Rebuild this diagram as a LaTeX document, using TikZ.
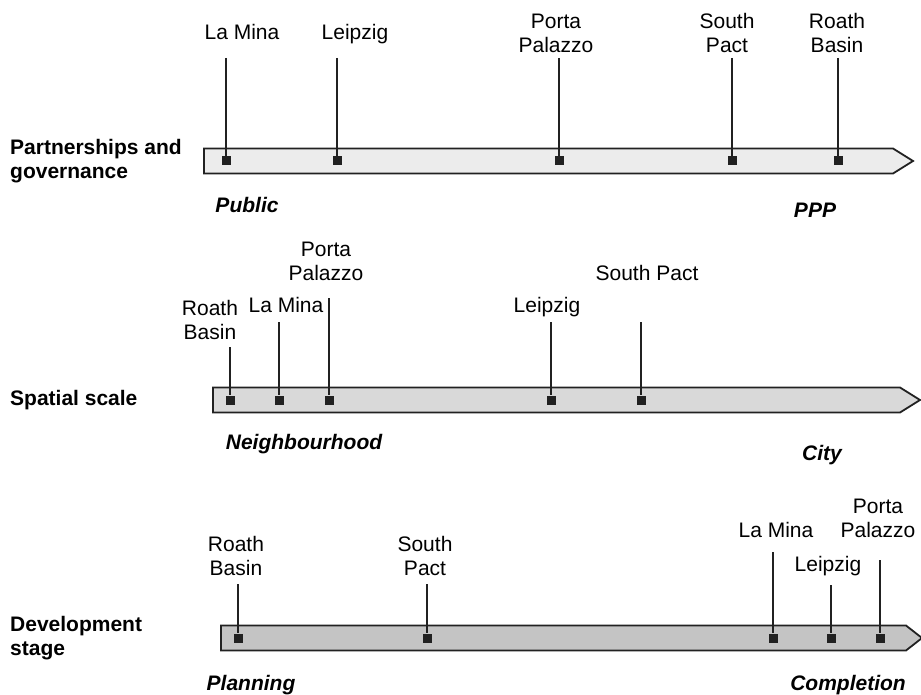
\documentclass[tikz,border=0pt]{standalone}
\usepackage{fontspec}
\setmainfont{Liberation Sans}
\definecolor{bandA}{gray}{0.925}
\definecolor{bandB}{gray}{0.85}
\definecolor{bandC}{gray}{0.77}
\definecolor{ink}{gray}{0.13}
\tikzset{
  band/.style={draw=ink, line width=1.8pt, line join=miter},
  dotsq/.style={fill=ink, minimum size=9pt, inner sep=0pt},
  stem/.style={draw=ink, line width=1.4pt},
  site/.style={font=\fontsize{21}{24.5}\selectfont, align=center, inner sep=0pt,
    text height=15pt, text depth=5pt, anchor=south},
  axislbl/.style={font=\bfseries\fontsize{21}{24.5}\selectfont, align=left, anchor=west, inner sep=0pt},
  endlbl/.style={font=\bfseries\itshape\fontsize{21}{24.5}\selectfont, inner sep=0pt, anchor=base}
}
\begin{document}
\begin{tikzpicture}[x=1pt, y=-1pt]
    \useasboundingbox (0,0) rectangle (921,695);
    % Partnerships and governance
    \begin{scope}[shift={(0,161)}]
        \draw[band, fill=bandA] (204,-12.5) -- (893,-12.5) -- (913,0) -- (893,12.5) -- (204,12.5) -- cycle;
        \node[axislbl] (gov) at (10,0) {Partnerships and\\governance};
        \node[dotsq] (gov-lamina) at (226,0) {};
        \node[dotsq] (gov-leipzig) at (337,0) {};
        \node[dotsq] (gov-porta) at (559,0) {};
        \node[dotsq] (gov-south) at (732,0) {};
        \node[dotsq] (gov-roath) at (838,0) {};
        \node[site] (gov-lamina-lbl) at (242,-116) {La Mina};
        \node[site] (gov-leipzig-lbl) at (355,-116) {Leipzig};
        \node[site] (gov-porta-lbl) at (556,-103) {Porta\\Palazzo};
        \node[site] (gov-south-lbl) at (727,-103) {South\\Pact};
        \node[site] (gov-roath-lbl) at (837,-103) {Roath\\Basin};
        \coordinate (gov-lamina-top) at (226,-103);
        \coordinate (gov-leipzig-top) at (337,-103);
        \coordinate (gov-porta-top) at (559,-103);
        \coordinate (gov-south-top) at (732,-103);
        \coordinate (gov-roath-top) at (838,-103);
        \draw[stem] (gov-lamina-top) -- (gov-lamina);
        \draw[stem] (gov-leipzig-top) -- (gov-leipzig);
        \draw[stem] (gov-porta-top) -- (gov-porta);
        \draw[stem] (gov-south-top) -- (gov-south);
        \draw[stem] (gov-roath-top) -- (gov-roath);
        \node[endlbl] (gov-low) at (247,52) {Public};
        \node[endlbl] (gov-high) at (815,57) {PPP};
    \end{scope}
    % Spatial scale
    \begin{scope}[shift={(0,400)}]
        \draw[band, fill=bandB] (213,-12.5) -- (900,-12.5) -- (920,0) -- (900,12.5) -- (213,12.5) -- cycle;
        \node[axislbl] (scale) at (10,0) {Spatial scale};
        \node[dotsq] (scale-roath) at (230,0) {};
        \node[dotsq] (scale-lamina) at (279,0) {};
        \node[dotsq] (scale-porta) at (329,0) {};
        \node[dotsq] (scale-leipzig) at (551,0) {};
        \node[dotsq] (scale-south) at (641,0) {};
        \node[site] (scale-roath-lbl) at (210,-55) {Roath\\Basin};
        \node[site] (scale-lamina-lbl) at (286,-82) {La Mina};
        \node[site] (scale-porta-lbl) at (326,-114) {Porta\\Palazzo};
        \node[site] (scale-leipzig-lbl) at (547,-82) {Leipzig};
        \node[site] (scale-south-lbl) at (647,-114) {South Pact};
        \coordinate (scale-roath-top) at (230,-53);
        \coordinate (scale-lamina-top) at (279,-78);
        \coordinate (scale-porta-top) at (329,-102);
        \coordinate (scale-leipzig-top) at (551,-78);
        \coordinate (scale-south-top) at (641,-78);
        \draw[stem] (scale-roath-top) -- (scale-roath);
        \draw[stem] (scale-lamina-top) -- (scale-lamina);
        \draw[stem] (scale-porta-top) -- (scale-porta);
        \draw[stem] (scale-leipzig-top) -- (scale-leipzig);
        \draw[stem] (scale-south-top) -- (scale-south);
        \node[endlbl] (scale-low) at (304,49) {Neighbourhood};
        \node[endlbl] (scale-high) at (822,60) {City};
    \end{scope}
    % Development stage
    \begin{scope}[shift={(0,638)}]
        \draw[band, fill=bandC] (221,-12.5) -- (906,-12.5) -- (922,0) -- (906,12.5) -- (221,12.5) -- cycle;
        \node[axislbl] (stage) at (10,0) {Development\\stage};
        \node[dotsq] (stage-roath) at (238,0) {};
        \node[dotsq] (stage-south) at (427,0) {};
        \node[dotsq] (stage-lamina) at (773,0) {};
        \node[dotsq] (stage-leipzig) at (831,0) {};
        \node[dotsq] (stage-porta) at (880,0) {};
        \node[site] (stage-roath-lbl) at (236,-57) {Roath\\Basin};
        \node[site] (stage-south-lbl) at (425,-57) {South\\Pact};
        \node[site] (stage-lamina-lbl) at (776,-95) {La Mina};
        \node[site] (stage-leipzig-lbl) at (828,-61) {Leipzig};
        \node[site] (stage-porta-lbl) at (878,-95) {Porta\\Palazzo};
        \coordinate (stage-roath-top) at (238,-54);
        \coordinate (stage-south-top) at (427,-54);
        \coordinate (stage-lamina-top) at (773,-86);
        \coordinate (stage-leipzig-top) at (831,-53);
        \coordinate (stage-porta-top) at (880,-78);
        \draw[stem] (stage-roath-top) -- (stage-roath);
        \draw[stem] (stage-south-top) -- (stage-south);
        \draw[stem] (stage-lamina-top) -- (stage-lamina);
        \draw[stem] (stage-leipzig-top) -- (stage-leipzig);
        \draw[stem] (stage-porta-top) -- (stage-porta);
        \node[endlbl] (stage-low) at (251,52) {Planning};
        \node[endlbl] (stage-high) at (848,52) {Completion};
    \end{scope}
\end{tikzpicture}
\end{document}
